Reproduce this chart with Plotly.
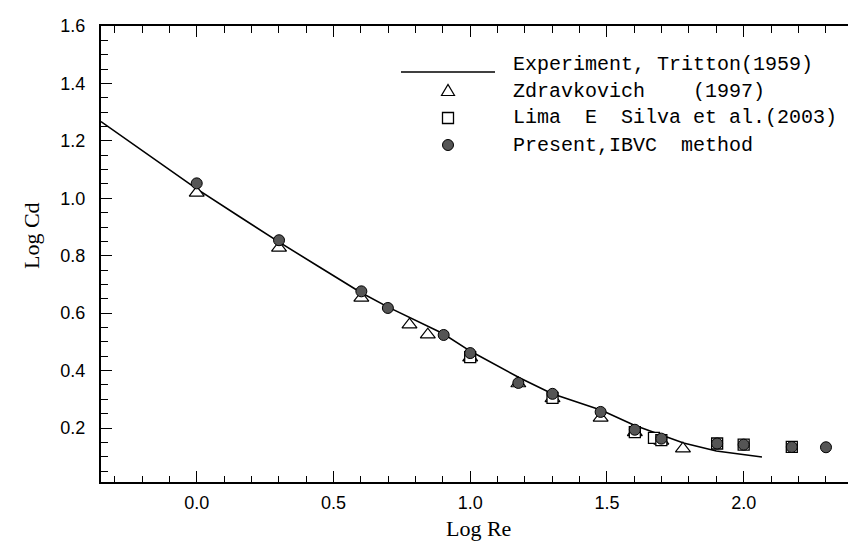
import plotly.graph_objects as go

# ---------------- data ----------------
tritton_x = [-0.35, -0.2, 0.0, 0.15, 0.3, 0.45, 0.6, 0.7, 0.9, 1.0, 1.18, 1.3,
             1.48, 1.6, 1.7, 1.78, 1.9, 2.0, 2.067]
tritton_y = [1.267, 1.167, 1.033, 0.94, 0.848, 0.76, 0.672, 0.621, 0.529, 0.468,
             0.375, 0.319, 0.262, 0.21, 0.175, 0.148, 0.12, 0.107, 0.099]

zdrav_x = [0.0, 0.301, 0.602, 0.778, 0.845, 1.0, 1.176, 1.301, 1.477, 1.602, 1.699, 1.778]
zdrav_y = [1.019, 0.827, 0.653, 0.560, 0.525, 0.445, 0.355, 0.303, 0.235, 0.185, 0.155, 0.128]

lima_x = [1.0, 1.301, 1.602, 1.672, 1.699, 1.903, 2.0, 2.176]
lima_y = [0.447, 0.305, 0.186, 0.166, 0.158, 0.146, 0.142, 0.134]

ibvc_x = [0.0, 0.301, 0.602, 0.699, 0.903, 1.0, 1.176, 1.301, 1.477, 1.602,
          1.699, 1.903, 2.0, 2.176, 2.301]
ibvc_y = [1.052, 0.854, 0.676, 0.618, 0.524, 0.461, 0.357, 0.319, 0.256, 0.194,
          0.163, 0.146, 0.142, 0.134, 0.133]

legend_labels = [
    "Experiment, Tritton(1959)",
    "Zdravkovich\u00a0\u00a0\u00a0\u00a0(1997)",
    "Lima\u00a0\u00a0E\u00a0\u00a0Silva et al.(2003)",
    "Present,IBVC\u00a0\u00a0method",
]
x_title = "Log Re"
y_title = "Log Cd"

x_range = [-0.35, 2.44]
y_range = [0.012, 1.6]

# ---------------- figure ----------------
W, H = 856, 546
ML, MR, MT, MB = 93, 0, 18, 72
PW, PH = W - ML - MR, H - MT - MB


def px(xp):
    return (xp - ML) / PW


def py(yp):
    return (H - MB - yp) / PH


fig = go.Figure()

fig.add_trace(go.Scatter(x=tritton_x, y=tritton_y, mode="lines",
                         line=dict(color="black", width=1.6), showlegend=False,
                         hoverinfo="skip"))
fig.add_trace(go.Scatter(x=zdrav_x, y=zdrav_y, mode="markers",
                         marker=dict(symbol="triangle-up", size=13, color="white",
                                     line=dict(color="black", width=1.2)),
                         showlegend=False))
fig.add_trace(go.Scatter(x=lima_x, y=lima_y, mode="markers",
                         marker=dict(symbol="square", size=11, color="white",
                                     line=dict(color="black", width=1.3)),
                         showlegend=False))
fig.add_trace(go.Scatter(x=ibvc_x, y=ibvc_y, mode="markers",
                         marker=dict(symbol="circle", size=11, color="#555555",
                                     line=dict(color="black", width=1)),
                         showlegend=False))
# empty trace to activate the right-hand tick axis
fig.add_trace(go.Scatter(x=[], y=[], yaxis="y2", showlegend=False))

# ------------- manual legend -------------
row_y = [57, 83, 110, 137]
sym_x = 440
text_x = 503
mono = dict(family="Liberation Mono, Courier New, monospace", size=20, color="black")

fig.add_shape(type="line", xref="paper", yref="paper",
              x0=px(393), x1=px(487), y0=py(64), y1=py(64),
              line=dict(color="black", width=1.6))
fig.add_shape(type="path", xref="paper", yref="paper",
              xsizemode="pixel", ysizemode="pixel",
              xanchor=px(sym_x), yanchor=py(row_y[1]),
              path="M-6.5,-4.5 L6.5,-4.5 L0,6.5 Z",
              fillcolor="white", line=dict(color="black", width=1.2))
fig.add_shape(type="rect", xref="paper", yref="paper",
              xsizemode="pixel", ysizemode="pixel",
              xanchor=px(sym_x), yanchor=py(row_y[2]),
              x0=-5.5, x1=5.5, y0=-5.5, y1=5.5,
              fillcolor="white", line=dict(color="black", width=1.3))
fig.add_shape(type="circle", xref="paper", yref="paper",
              xsizemode="pixel", ysizemode="pixel",
              xanchor=px(sym_x), yanchor=py(row_y[3]),
              x0=-5.5, x1=5.5, y0=-5.5, y1=5.5,
              fillcolor="#555555", line=dict(color="black", width=1))

for lbl, ry in zip(legend_labels, row_y):
    fig.add_annotation(text=lbl, xref="paper", yref="paper",
                       x=px(text_x), y=py(ry), xanchor="left", yanchor="middle",
                       showarrow=False, font=mono)

axis_font = dict(family="Liberation Sans, Arial, sans-serif", size=18, color="black")
title_font = dict(family="Liberation Serif, Times New Roman, serif", size=22, color="black")

# axis titles
fig.add_annotation(text=x_title, xref="paper", yref="paper",
                   x=px(470), y=py(520), xanchor="center", yanchor="middle",
                   showarrow=False, font=title_font, borderpad=0)
fig.add_annotation(text=y_title, xref="paper", yref="paper",
                   x=px(23), y=py(228), xanchor="center", yanchor="middle",
                   textangle=-90, showarrow=False, font=title_font, borderpad=0)

fig.update_layout(
    width=W, height=H,
    margin=dict(l=ML, r=MR, t=MT, b=MB, pad=0),
    paper_bgcolor="white", plot_bgcolor="white",
    showlegend=False,
    xaxis=dict(
        range=x_range, tick0=0, dtick=0.5, tickformat=".1f",
        ticks="inside", ticklen=11, tickwidth=1.2, tickcolor="black",
        minor=dict(dtick=0.1, ticks="inside", ticklen=6.5, tickwidth=1, tickcolor="black",
                   showgrid=False),
        showline=True, linecolor="black", linewidth=2, mirror="ticks",
        showgrid=False, zeroline=False,
        tickfont=axis_font, ticklabelstandoff=3,
    ),
    yaxis=dict(
        range=y_range, tick0=0, dtick=0.2, tickformat=".1f",
        ticks="inside", ticklen=11, tickwidth=1.2, tickcolor="black",
        minor=dict(dtick=0.05, ticks="inside", ticklen=6.5, tickwidth=1, tickcolor="black",
                   showgrid=False),
        showline=True, linecolor="black", linewidth=2, mirror=False,
        showgrid=False, zeroline=False,
        tickfont=axis_font, ticklabelstandoff=10,
    ),
    yaxis2=dict(
        range=y_range, tick0=0, dtick=0.2, overlaying="y", side="right",
        ticks="inside", ticklen=4, tickwidth=1, tickcolor="black",
        showticklabels=False, showline=False, showgrid=False, zeroline=False,
    ),
)

fig.write_html("out.html")
